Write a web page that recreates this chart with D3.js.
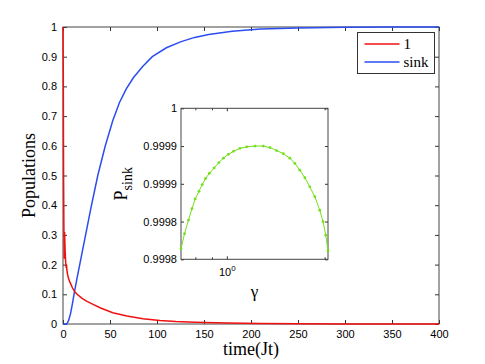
<!DOCTYPE html>
<html>
<head>
<meta charset="utf-8">
<script src="https://cdn.jsdelivr.net/npm/d3@7"></script>
<style>
  body { margin: 0; background: #fff; }
  svg { display: block; }
</style>
</head>
<body>
<div id="svg-container"></div>
<script>
// populatie site 1 (rood)
const redTime = [0, 0.3, 0.6, 1, 1.3, 1.7, 2.2, 2.8, 3.3, 3.7, 4.2, 5, 6, 7.5, 10, 12.5, 15, 20, 25, 32, 40, 53, 68, 85, 103, 120, 140, 175, 210, 250, 300, 350, 400]
const redPop = [1, 0.85, 0.5, 0.3, 0.22, 0.31, 0.25, 0.21, 0.19, 0.2, 0.18, 0.165, 0.152, 0.14, 0.122, 0.109, 0.1, 0.087, 0.077, 0.066, 0.054, 0.038, 0.027, 0.018, 0.012, 0.0085, 0.006, 0.003, 0.0015, 0.0006, 0.0002, 0.0001, 0]

// populatie sink (blauw)
const sinkTime = [0, 4, 6, 8, 10, 12, 15, 20, 25, 30, 37, 45, 53, 60, 67, 75, 85, 95, 110, 125, 140, 155, 180, 210, 250, 300, 350, 400]
const sinkPop = [0, 0, 0.012, 0.035, 0.068, 0.105, 0.155, 0.235, 0.315, 0.395, 0.5, 0.6, 0.685, 0.745, 0.79, 0.83, 0.868, 0.9, 0.93, 0.95, 0.965, 0.975, 0.986, 0.993, 0.997, 0.999, 0.9997, 1]

// inzet: P_sink tegen gamma
const gammaValues = [0.7226, 0.741, 0.762, 0.781, 0.799, 0.821, 0.840, 0.860, 0.884, 0.914, 0.945, 0.976, 1.011, 1.048, 1.098, 1.152, 1.221, 1.295, 1.358, 1.423, 1.492, 1.564, 1.620, 1.678, 1.739, 1.801, 1.866, 1.933, 1.978, 2.017, 2.049]
const pSinkValues = [0.999814, 0.999834, 0.999852, 0.999867, 0.999880, 0.999890, 0.999899, 0.999907, 0.999914, 0.999921, 0.999928, 0.999934, 0.999939, 0.999943, 0.999947, 0.999949, 0.999950, 0.999950, 0.999948, 0.999944, 0.999940, 0.999934, 0.999927, 0.999918, 0.999908, 0.999896, 0.999883, 0.999865, 0.999850, 0.999832, 0.999811]

// tick labels
const xTicks = [0, 50, 100, 150, 200, 250, 300, 350, 400]
const yTicks = [0, 0.1, 0.2, 0.3, 0.4, 0.5, 0.6, 0.7, 0.8, 0.9, 1]
const insetYTicks = [0.9998, 0.99985, 0.9999, 0.99995, 1]
const insetYLabels = ['0.9998', '0.9998', '0.9999', '0.9999', '1']
const insetXMinor = [0.8, 0.9, 2]
const legendLabels = ['1', 'sink']

const width = 485
const height = 364
const margin = { top: 27, right: 46, bottom: 40, left: 63 }
const innerWidth = width - margin.left - margin.right
const innerHeight = height - margin.top - margin.bottom

const svg = d3.select('#svg-container')
    .append('svg').attr('width', width).attr('height', height)

const tickFont = '"Liberation Sans", Arial, sans-serif'
const labelFont = '"Liberation Serif", "Times New Roman", serif'
const fmt = d3.format('~g')

const xScale = d3.scaleLinear().domain([0, 400]).range([0, innerWidth])
const yScale = d3.scaleLinear().domain([0, 1]).range([innerHeight, 0])

const g = svg.append('g')
    .attr('transform', `translate(${margin.left}, ${margin.top})`)

//assen, ticks naar binnen; lege labels weg
const styleAxis = sel => {
    sel.select('.domain').remove()
    sel.selectAll('line').attr('stroke', '#333')
    sel.selectAll('text').filter(function () { return this.textContent === '' }).remove()
    sel.selectAll('text').attr('font-family', tickFont).attr('font-size', 11).attr('fill', '#000')
}
g.append('g').attr('transform', `translate(0, ${innerHeight})`)
    .call(d3.axisBottom(xScale).tickValues(xTicks).tickFormat(fmt).tickSizeInner(-4).tickSizeOuter(0).tickPadding(6))
    .call(styleAxis)
g.append('g')
    .call(d3.axisTop(xScale).tickValues(xTicks).tickSizeInner(-4).tickSizeOuter(0).tickFormat(''))
    .call(styleAxis)
g.append('g')
    .call(d3.axisLeft(yScale).tickValues(yTicks).tickFormat(fmt).tickSizeInner(-4).tickSizeOuter(0).tickPadding(6))
    .call(styleAxis)
g.append('g').attr('transform', `translate(${innerWidth}, 0)`)
    .call(d3.axisRight(yScale).tickValues(yTicks).tickSizeInner(-4).tickSizeOuter(0).tickFormat(''))
    .call(styleAxis)
g.append('rect').attr('width', innerWidth).attr('height', innerHeight)
    .attr('fill', 'none').attr('stroke', '#444').attr('stroke-width', 1)

//lijnen
const line = d3.line().x(d => xScale(d[0])).y(d => yScale(d[1]))
g.append('path').datum(sinkTime.map((t, i) => [t, sinkPop[i]]))
    .attr('d', line).attr('fill', 'none').attr('stroke', '#2b4df0').attr('stroke-width', 1.5)
g.append('path').datum(redTime.map((t, i) => [t, redPop[i]]))
    .attr('d', line).attr('fill', 'none').attr('stroke', '#f01010').attr('stroke-width', 1.5)

//aslabels
svg.append('text').attr('x', margin.left + innerWidth / 2).attr('y', 355)
    .attr('text-anchor', 'middle').attr('font-family', labelFont).attr('font-size', 18)
    .text('time(Jt)')
svg.append('text').attr('transform', `translate(35, ${margin.top + innerHeight / 2}) rotate(-90)`)
    .attr('text-anchor', 'middle').attr('font-family', labelFont).attr('font-size', 18)
    .text('Populations')

//legenda
const legend = svg.append('g').attr('transform', 'translate(357.5, 32.5)')
legend.append('rect').attr('width', 77).attr('height', 41)
    .attr('fill', '#fff').attr('stroke', '#333').attr('stroke-width', 1)
const legendColors = ['#f01010', '#2b4df0']
legendLabels.forEach((label, i) => {
    legend.append('line').attr('x1', 7).attr('x2', 42).attr('y1', 11.5 + i * 18).attr('y2', 11.5 + i * 18)
        .attr('stroke', legendColors[i]).attr('stroke-width', 1.5)
    legend.append('text').attr('x', 46).attr('y', 16.5 + i * 18)
        .attr('font-family', labelFont).attr('font-size', 15).text(label)
})

//inzet grafiek
const inset = { left: 181, top: 108.3, right: 328, bottom: 259.3 }
const ix = d3.scaleLog().domain([0.7226, 2.049]).range([0, inset.right - inset.left])
const iy = d3.scaleLinear().domain([0.9998, 1]).range([inset.bottom - inset.top, 0])
const ig = svg.append('g').attr('transform', `translate(${inset.left}, ${inset.top})`)
const iw = inset.right - inset.left
const ih = inset.bottom - inset.top
ig.append('rect').attr('width', iw).attr('height', ih).attr('fill', '#fff')

ig.append('g')
    .call(d3.axisLeft(iy).tickValues(insetYTicks).tickSizeInner(-3).tickSizeOuter(0).tickPadding(4)
        .tickFormat((d, i) => insetYLabels[i]))
    .call(styleAxis)
ig.append('g').attr('transform', `translate(${iw}, 0)`)
    .call(d3.axisRight(iy).tickValues(insetYTicks).tickSizeInner(-3).tickSizeOuter(0).tickFormat(''))
    .call(styleAxis)
ig.append('g').attr('transform', `translate(0, ${ih})`)
    .call(d3.axisBottom(ix).tickValues(insetXMinor).tickSizeInner(-2).tickSizeOuter(0).tickFormat(''))
    .call(styleAxis)
ig.append('g')
    .call(d3.axisTop(ix).tickValues(insetXMinor).tickSizeInner(-2).tickSizeOuter(0).tickFormat(''))
    .call(styleAxis)
const major = ig.append('g').attr('transform', `translate(0, ${ih})`)
    .call(d3.axisBottom(ix).tickValues([1]).tickSizeInner(-3).tickSizeOuter(0).tickPadding(5).tickFormat(() => '10'))
    .call(styleAxis)
ig.append('g')
    .call(d3.axisTop(ix).tickValues([1]).tickSizeInner(-3).tickSizeOuter(0).tickFormat(''))
    .call(styleAxis)
//label 10^0
const majorText = major.select('.tick text').attr('dy', null).attr('y', 16.5).text(null)
majorText.append('tspan').text('10')
majorText.append('tspan').attr('dy', -5).attr('font-size', 8).text('0')

ig.append('rect').attr('width', iw).attr('height', ih)
    .attr('fill', 'none').attr('stroke', '#444').attr('stroke-width', 1)

const insetData = gammaValues.map((gm, i) => [gm, pSinkValues[i]])
ig.append('path').datum(insetData)
    .attr('d', d3.line().x(d => ix(d[0])).y(d => iy(d[1])))
    .attr('fill', 'none').attr('stroke', '#72e01a').attr('stroke-width', 1)
ig.selectAll('circle').data(insetData).enter().append('circle')
    .attr('cx', d => ix(d[0])).attr('cy', d => iy(d[1])).attr('r', 1.4)
    .attr('fill', '#72e01a')

//inzet labels
svg.append('text').attr('x', (inset.left + inset.right) / 2).attr('y', 297)
    .attr('text-anchor', 'middle').attr('font-family', labelFont).attr('font-size', 17)
    .text('γ')
const pLabel = svg.append('text')
    .attr('transform', `translate(127, ${(inset.top + inset.bottom) / 2}) rotate(-90)`)
    .attr('text-anchor', 'middle').attr('font-family', labelFont).attr('font-size', 18)
pLabel.append('tspan').text('P')
pLabel.append('tspan').attr('dy', 5).attr('font-size', 14).text('sink')
</script>
</body>
</html>
